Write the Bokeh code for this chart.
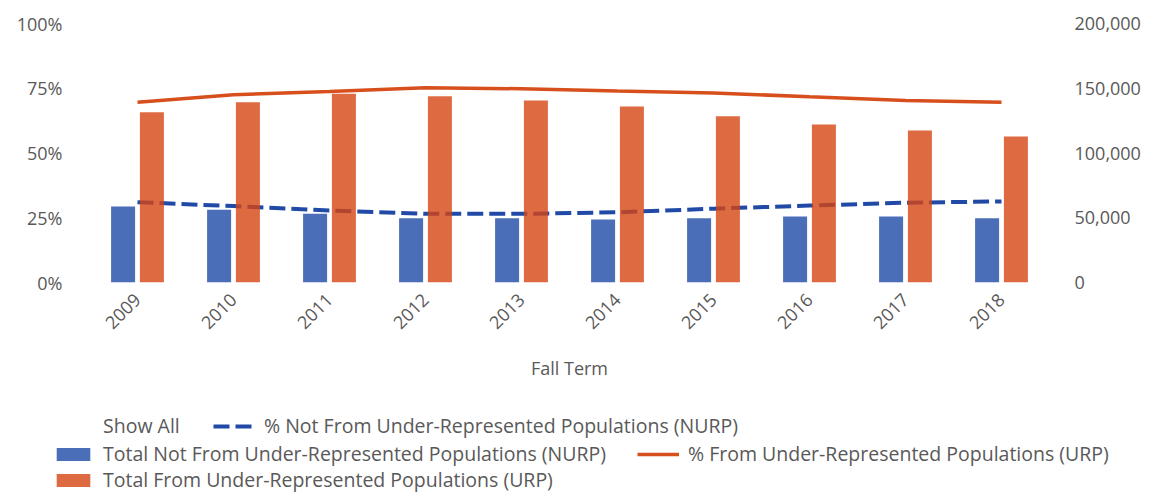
import math
from bokeh.plotting import figure
from bokeh.layouts import column
from bokeh.models import (ColumnDataSource, FactorRange, Range1d, LinearAxis,
                          FixedTicker, NumeralTickFormatter, Legend, LegendItem)
from bokeh.transform import dodge
from bokeh.embed import file_html
from bokeh.resources import INLINE

# ---- data ----
years = ["2009", "2010", "2011", "2012", "2013", "2014", "2015", "2016", "2017", "2018"]
total_nurp = [58700, 56100, 53000, 49700, 49700, 48600, 49700, 51000, 51000, 49700]
total_urp = [131500, 139200, 145700, 143900, 140500, 135900, 128400, 122000, 117400, 112700]
pct_nurp = [31.0, 29.5, 27.8, 26.5, 26.5, 27.1, 28.5, 29.7, 30.8, 31.3]
pct_urp = [69.6, 72.5, 73.7, 75.2, 74.8, 73.9, 73.2, 71.7, 70.3, 69.6]
pct_ticks = [0, 25, 50, 75, 100]
count_ticks = [0, 50000, 100000, 150000, 200000]

lbl_show_all = "Show All"
lbl_pct_nurp = "% Not From Under-Represented Populations (NURP)"
lbl_tot_nurp = "Total Not From Under-Represented Populations (NURP)"
lbl_pct_urp = "% From Under-Represented Populations (URP)"
lbl_tot_urp = "Total From Under-Represented Populations (URP)"

FONT = "Open Sans"
TXT = "#595959"
FS = "18px"
LFS = "19.5px"
C_NURP_LINE = "#2149A6"
C_URP_LINE = "#D84F1E"
C_NURP_BAR = "#1D4AA6"
C_URP_BAR = "#D64513"
BAR_ALPHA = 0.8

src = ColumnDataSource(dict(year=years, total_nurp=total_nurp, total_urp=total_urp,
                            pct_nurp=pct_nurp, pct_urp=pct_urp))

W, H = 1160, 392
p = figure(x_range=FactorRange(factors=years), y_range=Range1d(0, 100),
           width=W, height=H, output_backend="svg", toolbar_location=None,
           min_border_left=89, min_border_right=111, min_border_top=23,
           min_border_bottom=110)
p.frame_align = False
p.outline_line_color = None
p.grid.visible = False

# left (percent) axis
ly = p.yaxis[0]
ly.ticker = FixedTicker(ticks=pct_ticks)
ly.major_label_overrides = {t: f"{t}%" for t in pct_ticks}

# right (count) axis
p.extra_y_ranges = {"count": Range1d(0, 200000)}
ry = LinearAxis(y_range_name="count", ticker=FixedTicker(ticks=count_ticks),
                formatter=NumeralTickFormatter(format="0,0"))
p.add_layout(ry, "right")

for ax in [ly, ry, p.xaxis[0]]:
    ax.axis_line_color = None
    ax.major_tick_line_color = None
    ax.minor_tick_line_color = None
    ax.major_label_text_font = FONT
    ax.major_label_text_font_size = FS
    ax.major_label_text_color = TXT
ly.major_label_standoff = 21
ry.major_label_standoff = 19

xa = p.xaxis[0]
xa.major_label_orientation = math.pi / 4
xa.major_label_standoff = 8
xa.axis_label = "Fall Term"
xa.axis_label_text_font = FONT
xa.axis_label_text_font_size = FS
xa.axis_label_text_font_style = "normal"
xa.axis_label_text_color = TXT
xa.axis_label_standoff = 18

# lines (percent, left axis)
p.line(x="year", y="pct_nurp", source=src, line_color=C_NURP_LINE,
       line_width=4, line_dash="16 6")
p.line(x="year", y="pct_urp", source=src, line_color=C_URP_LINE, line_width=3.5)

# bars (counts, right axis), drawn on top with some transparency
p.vbar(x=dodge("year", -0.15, range=p.x_range), top="total_nurp", width=0.25,
       source=src, y_range_name="count", fill_color=C_NURP_BAR, fill_alpha=BAR_ALPHA,
       line_color=None)
p.vbar(x=dodge("year", 0.15, range=p.x_range), top="total_urp", width=0.25,
       source=src, y_range_name="count", fill_color=C_URP_BAR, fill_alpha=BAR_ALPHA,
       line_color=None)

# ---- legend strip (separate figure, frame covers the whole canvas) ----
LH = 100
q = figure(width=W, height=LH, x_range=Range1d(0, W), y_range=Range1d(0, LH),
           output_backend="svg", toolbar_location=None, min_border=0,
           min_border_left=0, min_border_right=0, min_border_top=0, min_border_bottom=0,
           x_axis_type=None, y_axis_type=None)
q.frame_align = False
q.outline_line_color = None
q.grid.visible = False

# legend-only swatch renderers: a single point placed outside the visible range
off = dict(x=[-1000], y=[-1000])
e_inv = q.line(x=off["x"], y=off["y"], line_alpha=0)
e_pn = q.line(x=off["x"], y=off["y"], line_color=C_NURP_LINE, line_width=4, line_dash="16 6")
e_pu = q.line(x=off["x"], y=off["y"], line_color=C_URP_LINE, line_width=3.5)
e_bn = q.vbar(x=off["x"], top=off["y"], width=1, fill_color=C_NURP_BAR,
              fill_alpha=BAR_ALPHA, line_color=None)
e_bu = q.vbar(x=off["x"], top=off["y"], width=1, fill_color=C_URP_BAR,
              fill_alpha=BAR_ALPHA, line_color=None)

ITEM_H = 28.5

def mk_legend(label, rend, x, center, gw=42):
    vy = LH - (center + ITEM_H / 2)
    leg = Legend(items=[LegendItem(label=label, renderers=[rend])],
                 location=(x, vy), orientation="horizontal",
                 glyph_width=gw, glyph_height=16, label_standoff=9,
                 padding=1, margin=0, spacing=0,
                 border_line_color=None, background_fill_alpha=0,
                 label_text_font=FONT, label_text_font_size=LFS,
                 label_text_color=TXT)
    q.add_layout(leg)

mk_legend(lbl_show_all, e_inv, 52, 33)
mk_legend(lbl_pct_nurp, e_pn, 213, 33)
mk_legend(lbl_tot_nurp, e_bn, 52, 61)
mk_legend(lbl_pct_urp, e_pu, 637, 61)
mk_legend(lbl_tot_urp, e_bu, 52, 87)

open("out.html", "w").write(file_html(column(p, q), INLINE))
